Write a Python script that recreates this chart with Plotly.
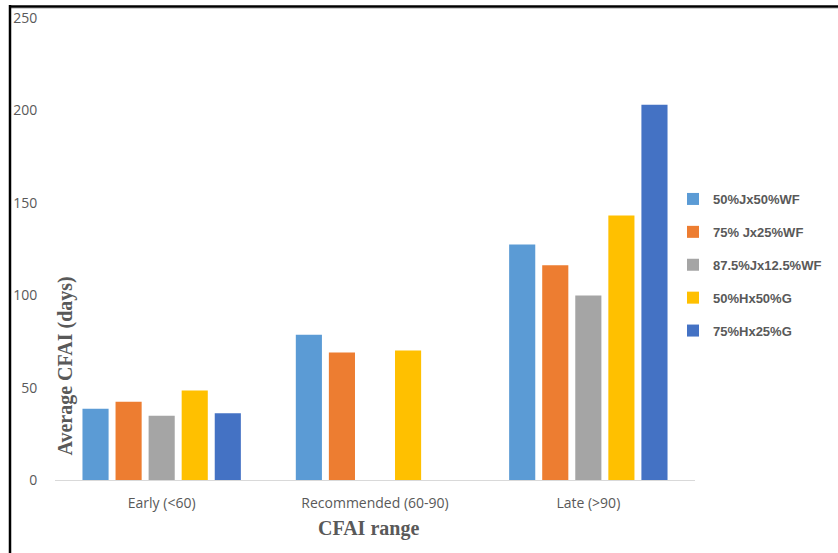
import plotly.graph_objects as go

# CFAI range categories and average CFAI (days) per breed group
categories = ["Early (<60)", "Recommended (60-90)", "Late (>90)"]
series_names = ["50%Jx50%WF", "75% Jx25%WF", "87.5%Jx12.5%WF", "50%Hx50%G", "75%Hx25%G"]
jx50_wf50 = [38.5, 78.6, 127.4]
jx75_wf25 = [42.3, 69.0, 116.2]
jx875_wf125 = [34.7, None, 99.8]
hx50_g50 = [48.4, 70.1, 143.1]
hx75_g25 = [36.1, None, 203.0]
series_values = [jx50_wf50, jx75_wf25, jx875_wf125, hx50_g50, hx75_g25]
colors = ["#5B9BD5", "#ED7D31", "#A5A5A5", "#FFC000", "#4472C4"]
y_ticks = [0, 50, 100, 150, 200, 250]

W, H = 838, 553
ML, MR, MT, MB = 55, 143, 18, 73
plot_w = W - ML - MR
plot_h = H - MT - MB

fig = go.Figure()
for i, (name, vals, col) in enumerate(zip(series_names, series_values, colors)):
    fig.add_trace(go.Bar(
        x=categories, y=vals, name=name, legendgroup=f"g{i}",
        marker=dict(color=col, line=dict(width=0)),
    ))

label_grey = "#595959"

fig.update_layout(
    width=W, height=H,
    margin=dict(l=ML, r=MR, t=MT, b=MB, autoexpand=False),
    paper_bgcolor="white", plot_bgcolor="white",
    barmode="group", bargap=0.225, bargroupgap=0.21,
    showlegend=True,
    legend=dict(
        xref="container", yref="container",
        x=673 / W, y=1 - 184 / H,
        xanchor="left", yanchor="top",
        font=dict(family="Liberation Sans", size=13, color=label_grey, weight="bold"),
        tracegroupgap=13, itemwidth=30,
        bgcolor="rgba(0,0,0,0)",
    ),
    xaxis=dict(
        showgrid=False, zeroline=False,
        showline=True, linecolor="#D9D9D9", linewidth=1,
        ticks="outside", ticklen=10, tickcolor="rgba(0,0,0,0)",
        tickfont=dict(family="Open Sans", size=14, color=label_grey),
        fixedrange=True,
    ),
    yaxis=dict(
        range=[0, 250], tickvals=y_ticks,
        showgrid=False, zeroline=False, showline=False,
        ticks="outside", ticklen=14, tickcolor="rgba(0,0,0,0)",
        tickfont=dict(family="Open Sans", size=14, color=label_grey),
        fixedrange=True,
    ),
    annotations=[
        dict(text="<b>Average CFAI (days)</b>", textangle=-90,
             xref="paper", yref="paper",
             x=(64.5 - ML) / plot_w, y=(480 - 366) / plot_h,
             xanchor="center", yanchor="middle", showarrow=False,
             font=dict(family="Liberation Serif", size=20, color=label_grey)),
        dict(text="<b>CFAI range</b>",
             xref="paper", yref="paper",
             x=(368 - ML) / plot_w, y=(480 - 528) / plot_h,
             xanchor="center", yanchor="middle", showarrow=False,
             font=dict(family="Liberation Serif", size=20, color=label_grey)),
    ],
    shapes=[
        # outer frame: top and left edges
        dict(type="line", xref="paper", yref="paper",
             x0=(9 - ML) / plot_w, x1=(W - ML) / plot_w,
             y0=(480 - 6.5) / plot_h, y1=(480 - 6.5) / plot_h,
             line=dict(color="black", width=2.5)),
        dict(type="line", xref="paper", yref="paper",
             x0=(9 - ML) / plot_w, x1=(W - ML) / plot_w,
             y0=(480 - 8.5) / plot_h, y1=(480 - 8.5) / plot_h,
             line=dict(color="#D0D0D0", width=1)),
        dict(type="line", xref="paper", yref="paper",
             x0=(10 - ML) / plot_w, x1=(10 - ML) / plot_w,
             y0=(480 - 5) / plot_h, y1=(480 - H) / plot_h,
             line=dict(color="black", width=2.5)),
    ],
)

fig.write_html("out.html")
